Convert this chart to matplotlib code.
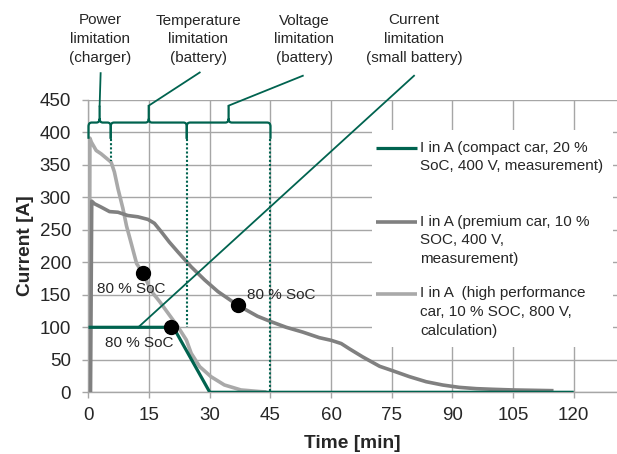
import matplotlib
matplotlib.use("Agg")
import matplotlib.pyplot as plt
from matplotlib.path import Path
from matplotlib.patches import PathPatch, Rectangle
from matplotlib.lines import Line2D
from matplotlib.transforms import blended_transform_factory

plt.rcParams['font.family'] = ['Liberation Sans', 'DejaVu Sans']

# ---------------- data ----------------
t_compact = [0, 21.0, 30.0, 120.0]
i_compact = [100, 100, 0, 0]

t_premium = [0.5, 0.8, 1.5, 3.1, 5.2, 7.3, 9.7, 12.2, 14.7, 16.3, 18.0, 20.0, 22.1,
             25.4, 28.7, 32.0, 36.9, 41.8, 45.0, 48.9, 53.0, 57.1, 60.0, 62.5, 64.5,
             67.8, 72.0, 75.3, 79.4, 83.5, 87.6, 91.7, 95.9, 100.0, 105.0, 115.0]
i_premium = [0, 294, 290, 285, 278, 277, 272, 270, 266, 260, 247, 231, 216,
             193, 173, 155, 134, 117, 109, 100, 92.6, 84, 80, 75, 67,
             54.5, 40, 33, 24, 16.3, 11.2, 7.6, 5.6, 4.6, 3.6, 2.5]

t_highperf = [0.2, 0.35, 0.7, 1.9, 3.1, 5.6, 6.4, 7.3, 8.5, 9.4, 10.7, 11.9, 13.5,
              15.6, 17.6, 19.7, 22.1, 24.2, 25.4, 27.5, 30.3, 33.6, 37.7, 42.6, 44.0]
i_highperf = [0, 391, 385, 372, 367, 354, 339, 313, 283, 256, 226, 198, 183,
              155, 139.5, 121.5, 101, 80.5, 60, 39.5, 24, 11.3, 3.6, 1, 0.5]

soc_t = [13.5, 20.5, 37.0]
soc_i = [183, 100, 134]
soc_label = "80 % SoC"

labels = ["I in A (compact car, 20 %\nSoC, 400 V, measurement)",
          "I in A (premium car, 10 %\nSOC, 400 V,\nmeasurement)",
          "I in A  (high performance\ncar, 10 % SOC, 800 V,\ncalculation)"]

limit_bounds = [0, 5.5, 24.3, 45.0]
limit_texts = ["Power\nlimitation\n(charger)",
               "Temperature\nlimitation\n(battery)",
               "Voltage\nlimitation\n(battery)",
               "Current\nlimitation\n(small battery)"]
limit_text_t = [2.8, 27.1, 53.3, 80.5]

x_ticks = [0, 15, 30, 45, 60, 75, 90, 105, 120]
y_ticks = [0, 50, 100, 150, 200, 250, 300, 350, 400, 450]

# ---------------- style ----------------
GREEN = '#00634f'
DGRAY = '#808080'
LGRAY = '#a9a9a9'
GRID = '#a6a6a6'
TXT = '#262626'

W, H = 617, 454
fig = plt.figure(figsize=(W / 100, H / 100), dpi=100)
ax_l, ax_r, ax_t, ax_b = 88.5, 617.0, 99.8, 392.3
ax = fig.add_axes([ax_l / W, (H - ax_b) / H, (ax_r - ax_l) / W, (ax_b - ax_t) / H])

ax.set_xlim(0, 130.7)
ax.set_ylim(0, 450)
ax.set_xticks(x_ticks)
ax.set_yticks(y_ticks)
ax.grid(True, color=GRID, lw=1.0)
ax.set_axisbelow(True)
for s in ['top', 'right']:
    ax.spines[s].set_visible(False)
for s in ['left', 'bottom']:
    ax.spines[s].set_color(GRID)
    ax.spines[s].set_linewidth(1.0)
ax.tick_params(axis='both', direction='out', length=4.5, width=1.0, color=GRID,
               labelsize=13.5, labelcolor=TXT)
ax.tick_params(axis='y', pad=8)
ax.tick_params(axis='x', pad=6)

ax.set_xlabel("Time [min]", fontsize=13.8, fontweight='bold', color=TXT)
ax.xaxis.label.set_va('center')
ax.xaxis.set_label_coords(0.5, (ax_b - 443.5) / (ax_b - ax_t))
ax.set_ylabel("Current [A]", fontsize=13.8, fontweight='bold', color=TXT)
ax.yaxis.label.set_va('center')
ax.yaxis.set_label_coords((26 - ax_l) / (ax_r - ax_l), 0.5)

# ---------------- curves ----------------
ax.plot(t_highperf, i_highperf, color=LGRAY, lw=2.6, zorder=3, solid_capstyle='butt')
ax.plot(t_premium, i_premium, color=DGRAY, lw=2.6, zorder=3, solid_capstyle='butt')
ax.plot(t_compact, i_compact, color=GREEN, lw=2.3, zorder=4, solid_capstyle='butt')
ax.plot(soc_t, soc_i, 'o', color='black', ms=10, zorder=6, linestyle='none')

ax.text(2.2, 158.5, soc_label, fontsize=11, color=TXT, va='center', ha='left', zorder=7)
ax.text(4.1, 75.4, soc_label, fontsize=11, color=TXT, va='center', ha='left', zorder=7)
ax.text(39.2, 150, soc_label, fontsize=11, color=TXT, va='center', ha='left', zorder=7)

# ---------------- braces & limitation annotations ----------------
yb, yend, ypk = 415, 390, 441
dx, dy = 0.8, 6


def brace(a, b):
    m = (a + b) / 2
    verts = [(a, yend), (a, yb - dy), (a, yb), (a + dx, yb),
             (m - dx, yb), (m, yb), (m, yb + dy), (m, ypk),
             (m, yb + dy), (m, yb), (m + dx, yb),
             (b - dx, yb), (b, yb), (b, yb - dy), (b, yend)]
    codes = [Path.MOVETO, Path.LINETO, Path.CURVE3, Path.CURVE3,
             Path.LINETO, Path.CURVE3, Path.CURVE3, Path.LINETO,
             Path.MOVETO, Path.CURVE3, Path.CURVE3,
             Path.LINETO, Path.CURVE3, Path.CURVE3, Path.LINETO]
    return PathPatch(Path(verts, codes), fill=False, edgecolor=GREEN, lw=1.6,
                     clip_on=False, zorder=5)


peaks = []
for a, b in zip(limit_bounds[:-1], limit_bounds[1:]):
    ax.add_patch(brace(a, b))
    peaks.append((a + b) / 2)

# dotted drops
ax.plot([limit_bounds[1]] * 2, [yend, 356], color=GREEN, lw=1.5, ls=(0, (1, 1)), zorder=5)
ax.plot([limit_bounds[2]] * 2, [yend, 100], color=GREEN, lw=1.5, ls=(0, (1, 1)), zorder=5)
ax.plot([limit_bounds[3]] * 2, [yend, 0], color=GREEN, lw=1.5, ls=(0, (1, 1)), zorder=5)

# leader lines
leader_top = [(3.0, 491), (27.5, 492), (53.0, 487)]
for (px, py), pk in zip(leader_top, peaks):
    ax.plot([pk, px], [ypk, py], color=GREEN, lw=1.3, clip_on=False, zorder=5)
ax.plot([12.3, 80.5], [100, 487], color=GREEN, lw=1.3, clip_on=False, zorder=5)

tr = blended_transform_factory(ax.transData, fig.transFigure)
for tx, s in zip(limit_text_t, limit_texts):
    ax.text(tx, 1 - 13.5 / H, s, transform=tr, ha='center', va='top', fontsize=11,
            color=TXT, linespacing=1.44, multialignment='center')

# ---------------- legend (manual, handle aligned to first line) ----------------
def axx(px):
    return (px - ax_l) / (ax_r - ax_l)


def axy(py):
    return (ax_b - py) / (ax_b - ax_t)


ax.add_patch(Rectangle((axx(372), axy(347)), axx(613) - axx(372), axy(130) - axy(347),
                       transform=ax.transAxes, facecolor='white', edgecolor='none', zorder=3.5))
handle_y = [148, 222, 294]
colors = [GREEN, DGRAY, LGRAY]
widths = [2.3, 2.6, 2.6]
for hy, c, w, lab in zip(handle_y, colors, widths, labels):
    ax.add_line(Line2D([axx(376), axx(417)], [axy(hy), axy(hy)], transform=ax.transAxes,
                       color=c, lw=w, zorder=4, solid_capstyle='butt'))
    ax.text(axx(420), axy(hy - 7.5), lab, transform=ax.transAxes, fontsize=11, color=TXT,
            ha='left', va='top', linespacing=1.42, zorder=4)

fig.savefig("out.png", dpi=100)
